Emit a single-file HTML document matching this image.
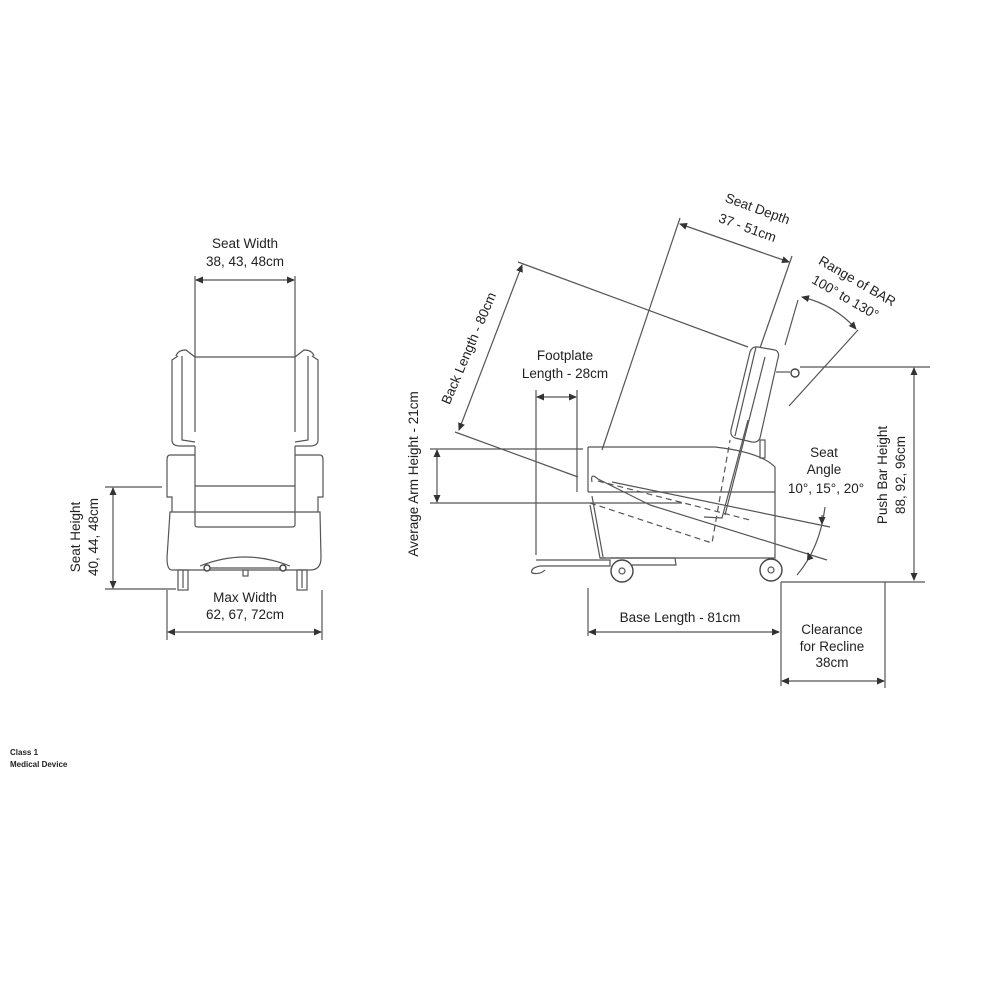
<!DOCTYPE html>
<html><head><meta charset="utf-8"><style>
html,body{margin:0;padding:0;background:#fff;}
svg{display:block;}
text{font-family:"Liberation Sans",sans-serif;font-size:13.5px;fill:#222;}
.l{stroke:#555;stroke-width:1.2;fill:none;}
.d{stroke:#555;stroke-width:1.2;fill:none;stroke-dasharray:6 4;}
.c{stroke:#444;stroke-width:1.4;fill:#fff;}
</style></head><body>
<svg width="1000" height="1000" viewBox="0 0 1000 1000">
<defs>
<marker id="a" markerWidth="8" markerHeight="8" refX="7" refY="4" orient="auto-start-reverse" markerUnits="userSpaceOnUse">
<path d="M0,0.5 L8,4 L0,7.5 z" fill="#333"/></marker>
</defs>

<!-- LEFT CHAIR -->
<text x="245" y="248" text-anchor="middle">Seat Width</text>
<text x="245" y="266" text-anchor="middle">38, 43, 48cm</text>
<line class="l" x1="196" y1="280" x2="294" y2="280" marker-start="url(#a)" marker-end="url(#a)"/>
<line class="l" x1="195" y1="276" x2="195" y2="432"/>
<line class="l" x1="295" y1="276" x2="295" y2="432"/>
<!-- back -->
<path class="l" d="M176,356 Q178,350 186,350 L195,357 L295,357 L304,350 Q312,350 314,356"/>
<path class="l" d="M178,356 L172,360 L172,440 Q172,446 180,446 L195,446"/>
<path class="l" d="M182,356 L182,440 L195,442"/>
<path class="l" d="M312,356 L318,360 L318,440 Q318,446 310,446 L295,446"/>
<path class="l" d="M308,356 L308,440 L295,442"/>
<!-- arms -->
<path class="l" d="M195,455 L170,455 Q167,455 167,460 L167,497 L172,497 L172,512"/>
<path class="l" d="M295,455 L320,455 Q323,455 323,460 L323,497 L318,497 L318,512"/>
<!-- cushion -->
<path class="l" d="M195,446 L195,525 Q195,527 198,527 L292,527 Q295,527 295,525 L295,446"/>
<line class="l" x1="195" y1="486" x2="295" y2="486"/>
<!-- base -->
<path class="l" d="M170,512 L320,512 L321,558 Q321,570 310,570 L172,570 Q167,570 167,558 Z"/>
<path class="l" d="M200,566 Q245,548 290,566"/>
<line class="l" x1="207" y1="568" x2="283" y2="568"/>
<circle class="c" cx="207" cy="568" r="3"/><circle class="c" cx="283" cy="568" r="3"/>
<rect class="l" x="243" y="570" width="5" height="6"/>
<rect class="l" x="178" y="570" width="10" height="20"/>
<rect class="l" x="297" y="570" width="10" height="20"/>
<line class="l" x1="183" y1="570" x2="183" y2="588"/><line class="l" x1="302" y1="570" x2="302" y2="588"/>
<!-- seat height -->
<line class="l" x1="105" y1="487" x2="162" y2="487"/>
<line class="l" x1="105" y1="589" x2="176" y2="589"/>
<line class="l" x1="113" y1="488" x2="113" y2="588" marker-start="url(#a)" marker-end="url(#a)"/>
<text transform="translate(80,537) rotate(-90)" text-anchor="middle">Seat Height</text>
<text transform="translate(98,537) rotate(-90)" text-anchor="middle">40, 44, 48cm</text>
<!-- max width -->
<text x="245" y="602" text-anchor="middle">Max Width</text>
<text x="245" y="619" text-anchor="middle">62, 67, 72cm</text>
<line class="l" x1="167" y1="590" x2="167" y2="640"/>
<line class="l" x1="322" y1="590" x2="322" y2="640"/>
<line class="l" x1="168" y1="632" x2="321" y2="632" marker-start="url(#a)" marker-end="url(#a)"/>

<!-- RIGHT CHAIR -->
<text transform="translate(756,213) rotate(20)" text-anchor="middle">Seat Depth</text>
<text transform="translate(746,232) rotate(20)" text-anchor="middle">37 - 51cm</text>
<line class="l" x1="680" y1="224" x2="789" y2="262" marker-start="url(#a)" marker-end="url(#a)"/>
<line class="l" x1="680" y1="218" x2="602" y2="450"/>
<line class="l" x1="792" y1="256" x2="760" y2="348"/>
<text transform="translate(855,285) rotate(30)" text-anchor="middle">Range of BAR</text>
<text transform="translate(843,301) rotate(30)" text-anchor="middle">100° to 130°</text>
<path class="l" d="M802,297 Q835,305 856,329" marker-start="url(#a)" marker-end="url(#a)"/>
<line class="l" x1="798" y1="300" x2="785" y2="345"/>
<line class="l" x1="858" y1="330" x2="789" y2="406"/>
<text transform="translate(473,350) rotate(-67)" text-anchor="middle">Back Length - 80cm</text>
<line class="l" x1="522" y1="265" x2="459" y2="430" marker-start="url(#a)" marker-end="url(#a)"/>
<line class="l" x1="518" y1="262" x2="748" y2="347"/>
<line class="l" x1="455" y1="432" x2="578" y2="477"/>
<text x="565" y="360" text-anchor="middle">Footplate</text>
<text x="565" y="378" text-anchor="middle">Length - 28cm</text>
<line class="l" x1="537" y1="397" x2="576" y2="397" marker-start="url(#a)" marker-end="url(#a)"/>
<line class="l" x1="536" y1="390" x2="536" y2="555"/>
<line class="l" x1="577" y1="390" x2="577" y2="492"/>
<!-- arm height -->
<line class="l" x1="430" y1="449" x2="583" y2="449"/>
<line class="l" x1="430" y1="503" x2="682" y2="503"/>
<line class="l" x1="437" y1="450" x2="437" y2="502" marker-start="url(#a)" marker-end="url(#a)"/>
<text transform="translate(418,474) rotate(-90)" text-anchor="middle">Average Arm Height - 21cm</text>
<!-- chair body -->
<path class="l" d="M588,447 L715,447 Q760,452 775,467 L775,558 L600,558"/>
<line class="l" x1="588" y1="447" x2="588" y2="492"/>
<line class="l" x1="588" y1="492" x2="775" y2="492"/>
<path class="l" d="M592,482 Q590,472 598,479 L650,505"/>
<path class="d" d="M598,481 L750,520"/>
<path class="d" d="M590,503 L712,543 L730,440"/>
<path class="l" d="M612,482 L830,527"/>
<path class="l" d="M590,505 L600,558 L606,558"/>
<path class="l" d="M592,496 L603,557"/>
<path class="l" d="M725,515 L765,357"/>
<path class="l" d="M704,517 L722,518 L748,420"/>
<path class="l" d="M650,505 L827,560"/>
<!-- back cushion -->
<path class="l" d="M750,352 Q752,346 758,347 L775,350 Q780,352 778,358 L760,438 Q758,443 752,442 L735,438 Q730,436 731,430 Z"/>
<path class="l" d="M756,347 L735,436"/>
<path class="l" d="M776,372 L790,372"/>
<circle class="c" cx="795" cy="373" r="4"/>
<rect class="l" x="760" y="440" width="5" height="18"/>
<!-- footplate & wheels -->
<path class="l" d="M536,560 L610,560 L610,566 L540,566 Q530,568 532,573 Q540,575 545,570"/>
<path class="l" d="M610,558 L675,558 L676,565 L632,565"/>
<circle class="c" cx="622" cy="571" r="11"/><circle class="l" cx="622" cy="571" r="3"/>
<circle class="c" cx="771" cy="570" r="11"/><circle class="l" cx="771" cy="570" r="3"/>
<!-- seat angle -->
<text x="824" y="457" text-anchor="middle">Seat</text>
<text x="824" y="474" text-anchor="middle">Angle</text>
<text x="826" y="493" text-anchor="middle">10°, 15°, 20°</text>
<path class="l" d="M825,507 Q820,548 797,575"/>
<line class="l" x1="822" y1="515" x2="822" y2="524" marker-end="url(#a)"/>
<line class="l" x1="810" y1="559" x2="808" y2="553" marker-end="url(#a)"/>
<!-- push bar -->
<line class="l" x1="800" y1="367" x2="930" y2="367"/>
<line class="l" x1="781" y1="582" x2="925" y2="582"/>
<line class="l" x1="914" y1="368" x2="914" y2="580" marker-start="url(#a)" marker-end="url(#a)"/>
<text transform="translate(887,475) rotate(-90)" text-anchor="middle">Push Bar Height</text>
<text transform="translate(905,475) rotate(-90)" text-anchor="middle">88, 92, 96cm</text>
<!-- base length -->
<line class="l" x1="588" y1="588" x2="588" y2="636"/>
<line class="l" x1="589" y1="632" x2="779" y2="632" marker-start="url(#a)" marker-end="url(#a)"/>
<text x="680" y="622" text-anchor="middle">Base Length - 81cm</text>
<!-- clearance -->
<line class="l" x1="781" y1="582" x2="781" y2="686"/>
<line class="l" x1="885" y1="582" x2="885" y2="688"/>
<line class="l" x1="782" y1="681" x2="884" y2="681" marker-start="url(#a)" marker-end="url(#a)"/>
<text x="832" y="634" text-anchor="middle">Clearance</text>
<text x="832" y="651" text-anchor="middle">for Recline</text>
<text x="832" y="667" text-anchor="middle">38cm</text>

<text x="10" y="755" style="font-size:8px;font-weight:bold">Class 1</text>
<text x="10" y="767" style="font-size:8px;font-weight:bold">Medical Device</text>
</svg>
</body></html>
